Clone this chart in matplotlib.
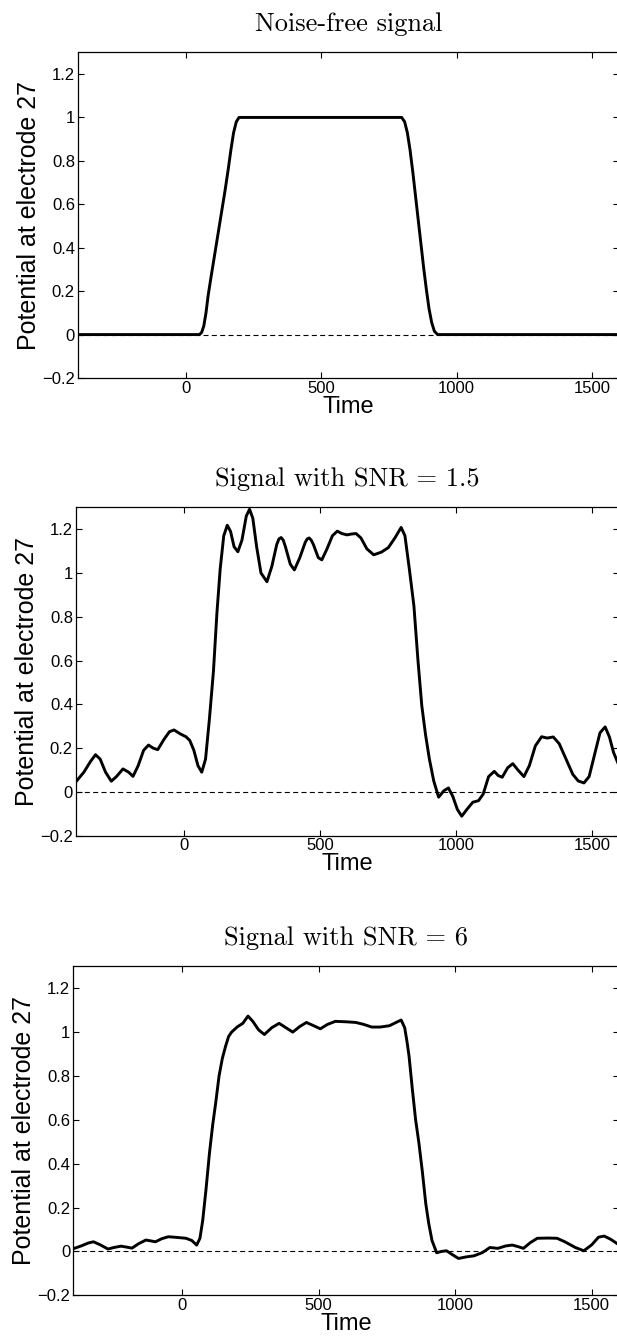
import matplotlib
matplotlib.use("Agg")
import matplotlib.pyplot as plt

plt.rcParams['font.family'] = ['Liberation Sans', 'DejaVu Sans']

# ---------------- data ----------------
titles = ["Noise-free signal", "Signal with SNR = 1.5", "Signal with SNR = 6"]
ylabel_text = "Potential at electrode 27"
xlabel_text = "Time"
x_ticks = [0, 500, 1000, 1500]
x_tick_labels = ["0", "500", "1000", "1500"]
y_ticks = [-0.2, 0.0, 0.2, 0.4, 0.6, 0.8, 1.0, 1.2]
y_tick_labels = ["\u22120.2", "0", "0.2", "0.4", "0.6", "0.8", "1", "1.2"]

clean_t = [-400, 50, 58, 66, 74, 82, 92, 105, 118, 131, 144, 156, 166, 176, 186, 196,
           797, 808, 818, 828, 838, 848, 858, 868, 878, 888, 898, 908, 918, 930, 1600]
clean_v = [0.0, 0.0, 0.01, 0.04, 0.1, 0.18, 0.26, 0.36, 0.46, 0.56, 0.66, 0.76, 0.85, 0.93,
           0.98, 1.0,
           1.0, 0.98, 0.93, 0.85, 0.75, 0.64, 0.53, 0.42, 0.31, 0.21, 0.12, 0.055, 0.015,
           0.0, 0.0]

snr15_t = [-400, -370, -345, -327, -310, -290, -269, -250, -226, -205, -189, -170, -150,
           -132, -115, -98, -75, -55, -38, -15, 6, 20, 35, 50, 64, 78, 92, 107, 120, 132,
           145, 158, 170, 183, 197, 212, 228, 240, 252, 266, 282, 304, 322, 340, 348, 356,
           364, 372, 390, 405, 425, 445, 452, 459, 467, 475, 493, 506, 525, 545, 563, 580,
           599, 615, 632, 650, 672, 697, 725, 751, 775, 798, 812, 828, 845, 860, 874, 888,
           902, 918, 936, 955, 972, 988, 1005, 1021, 1040, 1062, 1083, 1100, 1120, 1141,
           1155, 1170, 1190, 1209, 1228, 1250, 1270, 1292, 1315, 1336, 1358, 1380, 1405,
           1430, 1450, 1471, 1490, 1510, 1530, 1549, 1565, 1580, 1600]
snr15_v = [0.045, 0.09, 0.14, 0.17, 0.15, 0.09, 0.049, 0.07, 0.105, 0.09, 0.071, 0.12, 0.19,
           0.214, 0.20, 0.193, 0.24, 0.275, 0.283, 0.265, 0.252, 0.235, 0.19, 0.12, 0.09,
           0.15, 0.33, 0.55, 0.82, 1.02, 1.17, 1.218, 1.19, 1.12, 1.097, 1.15, 1.26, 1.291,
           1.25, 1.12, 1.0, 0.96, 1.03, 1.13, 1.155, 1.162, 1.15, 1.12, 1.04, 1.014, 1.07,
           1.14, 1.155, 1.16, 1.15, 1.13, 1.07, 1.06, 1.11, 1.17, 1.191, 1.18, 1.174, 1.178,
           1.18, 1.16, 1.11, 1.083, 1.095, 1.116, 1.16, 1.208, 1.17, 1.02, 0.85, 0.6, 0.394,
           0.26, 0.15, 0.05, -0.024, 0.005, 0.018, -0.02, -0.08, -0.111, -0.08, -0.047,
           -0.04, -0.01, 0.07, 0.094, 0.075, 0.067, 0.11, 0.129, 0.10, 0.07, 0.12, 0.21,
           0.252, 0.246, 0.251, 0.22, 0.15, 0.08, 0.05, 0.041, 0.07, 0.17, 0.27, 0.297,
           0.25, 0.18, 0.12]

snr6_t = [-400, -370, -345, -325, -300, -272, -250, -224, -205, -184, -160, -133, -115, -98,
          -75, -51, -20, 14, 35, 53, 65, 75, 87, 100, 112, 123, 135, 147, 159, 170, 181, 202,
          222, 241, 258, 280, 301, 328, 355, 380, 405, 430, 455, 480, 506, 532, 561, 600,
          636, 665, 694, 725, 759, 785, 802, 815, 823, 831, 843, 855, 867, 880, 892, 903,
          915, 932, 950, 968, 990, 1012, 1040, 1069, 1100, 1127, 1156, 1185, 1209, 1230,
          1250, 1275, 1301, 1340, 1373, 1400, 1440, 1471, 1500, 1525, 1546, 1570, 1600]
snr6_v = [0.012, 0.025, 0.038, 0.044, 0.03, 0.011, 0.018, 0.024, 0.02, 0.015, 0.035, 0.052,
          0.048, 0.044, 0.058, 0.067, 0.064, 0.06, 0.05, 0.029, 0.06, 0.14, 0.28, 0.45, 0.58,
          0.68, 0.8, 0.88, 0.936, 0.98, 1.0, 1.024, 1.04, 1.073, 1.05, 1.01, 0.989, 1.02,
          1.04, 1.02, 1.0, 1.025, 1.044, 1.03, 1.015, 1.035, 1.049, 1.047, 1.044, 1.035,
          1.023, 1.023, 1.029, 1.045, 1.055, 1.02, 0.96, 0.89, 0.74, 0.6, 0.495, 0.36, 0.22,
          0.128, 0.05, -0.006, 0.0, 0.003, -0.015, -0.032, -0.025, -0.02, -0.005, 0.018,
          0.014, 0.025, 0.029, 0.022, 0.014, 0.04, 0.06, 0.061, 0.06, 0.045, 0.018, 0.003,
          0.03, 0.065, 0.07, 0.055, 0.03]

series = [(clean_t, clean_v), (snr15_t, snr15_v), (snr6_t, snr6_v)]

# ---------------- layout ----------------
W, H = 617, 1339
fig = plt.figure(figsize=(W / 100, H / 100), dpi=100)
boxes = [(77.7, 52.3, 378.0), (75.7, 507.3, 835.7), (73.0, 966.3, 1295.3)]
right_px = 619.0

for (left, top, bottom), title, (t, v) in zip(boxes, titles, series):
    ax = fig.add_axes([left / W, (H - bottom) / H, (right_px - left) / W, (bottom - top) / H])
    ax.axhline(0, color='black', lw=0.8, ls=(0, (4.5, 3.0)), zorder=1)
    ax.plot(t, v, color='black', lw=2.1, solid_joinstyle='round', zorder=2)
    ax.set_xlim(-400, 1600)
    ax.set_ylim(-0.2, 1.3)
    ax.set_xticks(x_ticks)
    ax.set_xticklabels(x_tick_labels)
    ax.set_yticks(y_ticks)
    ax.set_yticklabels(y_tick_labels)
    ax.tick_params(direction='in', top=True, right=True, length=4, width=0.8,
                   labelsize=12, pad=2)
    for s in ax.spines.values():
        s.set_linewidth(0.9)
    ax.set_title(title, fontfamily='cmr10', fontsize=19, pad=15)
    ax.set_xlabel(xlabel_text, fontsize=17, labelpad=0)
    ax.set_ylabel(ylabel_text, fontsize=18, labelpad=1)

fig.savefig("out.png", dpi=100)
